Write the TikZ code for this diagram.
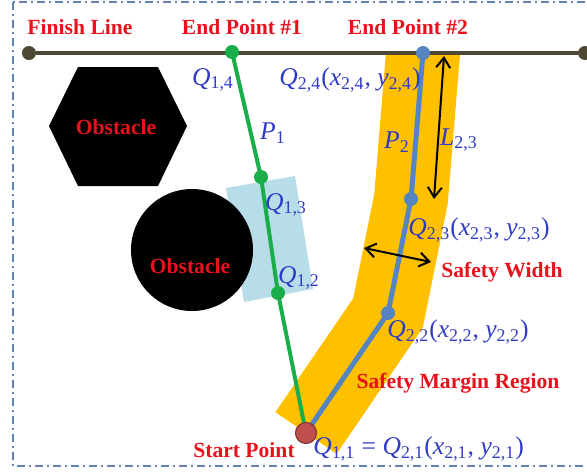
\documentclass[tikz,border=0pt]{standalone}
\usepackage{fontspec}
\setmainfont{Liberation Serif}
\usetikzlibrary{arrows.meta, calc}
\definecolor{LineOlive}{HTML}{4D4733}
\definecolor{PathGreen}{HTML}{1AAE4A}
\definecolor{PathBlue}{HTML}{5485C0}
\definecolor{BandGold}{HTML}{FFC000}
\definecolor{ShadeBlue}{HTML}{B7DDE8}
\definecolor{TextRed}{HTML}{E8121C}
\definecolor{TextBlue}{HTML}{2F3BC6}
\definecolor{StartRed}{HTML}{C0504D}
\definecolor{FrameBlue}{HTML}{6383B5}
\newcommand{\sbs}[1]{\textsubscript{#1}}
\newcommand{\qxy}[1]{\textit{Q}\sbs{#1}(\textit{x}\sbs{#1}, \textit{y}\sbs{#1})}
\tikzset{
  rlbl/.style={text=TextRed, font=\fontsize{10.8}{12}\selectfont\bfseries, inner sep=1pt},
  blbl/.style={text=TextBlue, font=\fontsize{12.8}{14}\selectfont, inner sep=1pt},
  gdot/.style={circle, fill=PathGreen, minimum size=7pt, inner sep=0pt},
  bdot/.style={circle, fill=PathBlue, minimum size=7pt, inner sep=0pt},
  odot/.style={circle, fill=LineOlive, minimum size=7pt, inner sep=0pt},
  sdot/.style={circle, fill=StartRed, draw=StartRed!70!black, line width=0.6pt,
    minimum size=10.5pt, inner sep=0pt},
  gpath/.style={draw=PathGreen, line width=2pt},
  bpath/.style={draw=PathBlue, line width=2.5pt},
  band/.style={draw=BandGold, line width=37pt, line join=miter},
  finish/.style={draw=LineOlive, line width=2pt},
  dimarrow/.style={{Straight Barb[length=5pt,width=7pt]}-{Straight Barb[length=5pt,width=7pt]},
    line width=1pt},
  obst/.style={fill=black},
  borderline/.style={draw=FrameBlue, line width=0.7pt, dash pattern=on 4pt off 2pt on 1pt off 2pt},
}

\begin{document}
\begin{tikzpicture}[x=0.5pt, y=-0.5pt]
    \useasboundingbox (0,0) rectangle (587,472);
    \draw[borderline] (13,2) rectangle (600,466);

    % path points
    \coordinate (q11) at (306,433);
    \coordinate (q12) at (278,293);
    \coordinate (q13) at (261,177);
    \coordinate (q14) at (232,52);
    \coordinate (q22) at (388,313);
    \coordinate (q23) at (411,199);
    \coordinate (q24) at (423,53);

    % safety margin region
    \begin{scope}
      \clip (0,52) rectangle (587,472);
      \draw[band] (q11) -- (q22) -- (q23) -- ($(q23)!1.3!(q24)$);
    \end{scope}
    \fill[ShadeBlue] (226,188) -- (295,176) -- (313,289) -- (244,302) -- cycle;

    % obstacles
    \fill[obst] (49,126) -- (78,67) -- (158,67) -- (187,126) -- (158,186) -- (78,186) -- cycle;
    \node[obst, circle, minimum size=61pt, inner sep=0pt] (obs2) at (192,250) {};
    \node[rlbl] (obs1lbl) at (116,127) {Obstacle};
    \node[rlbl] (obs2lbl) at (190,266) {Obstacle};

    % finish line
    \node[odot] (fl1) at (29,53) {};
    \node[odot] (fl2) at (585,53) {};
    \draw[finish] (fl1) -- (fl2);

    % paths
    \draw[gpath] (q11) -- (q12) -- (q13) -- (q14);
    \draw[bpath] (q11) -- (q22) -- (q23) -- (q24);
    \coordinate (ltop) at (444,56);
    \coordinate (lbot) at (434,199);
    \draw[dimarrow] (ltop) -- (lbot);
    \coordinate (wl) at (364,248);
    \coordinate (wr) at (431,262);
    \draw[dimarrow] (wl) -- (wr);

    \node[gdot] (d14) at (q14) {};
    \node[gdot] (d13) at (q13) {};
    \node[gdot] (d12) at (q12) {};
    \node[bdot] (d24) at (q24) {};
    \node[bdot] (d23) at (q23) {};
    \node[bdot] (d22) at (q22) {};
    \node[sdot] (start) at (q11) {};

    % labels
    \node[rlbl] (finishlbl) at (80,27) {Finish Line};
    \node[rlbl] (end1lbl) at (242,27) {End Point \#1};
    \node[rlbl] (end2lbl) at (408,27) {End Point \#2};
    \node[rlbl] (widthlbl) at (502,272) {Safety Width};
    \node[rlbl] (marginlbl) at (458,383) {Safety Margin Region};
    \node[rlbl] (startlbl) at (244,450) {Start Point};

    \node[blbl] (q14lbl) at (213,80) {\textit{Q}\sbs{1,4}};
    \node[blbl] (q13lbl) at (286,205) {\textit{Q}\sbs{1,3}};
    \node[blbl] (q12lbl) at (299,278) {\textit{Q}\sbs{1,2}};
    \node[blbl] (p1lbl) at (273,133) {\textit{P}\sbs{1}};
    \node[blbl] (p2lbl) at (397,142) {\textit{P}\sbs{2}};
    \node[blbl] (l23lbl) at (459,140) {\textit{L}\sbs{2,3}};
    \node[blbl] (q24lbl) at (350,80) {\qxy{2,4}};
    \node[blbl] (q23lbl) at (479,230) {\qxy{2,3}};
    \node[blbl] (q22lbl) at (458,332) {\qxy{2,2}};
    \node[blbl, anchor=west] (q11lbl) at (311,449) {\textit{Q}\sbs{1,1} = \qxy{2,1}};
  \end{tikzpicture}
\end{document}
